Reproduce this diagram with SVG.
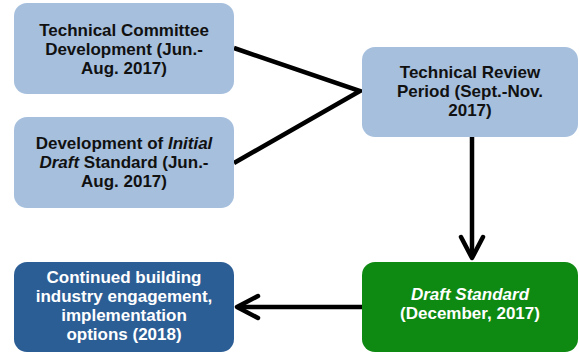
<svg xmlns="http://www.w3.org/2000/svg" width="579" height="353" viewBox="0 0 579 353">
<style>
.box{stroke:none}
.lb{fill:#A5BFDD}
.db{fill:#2C5E96}
.gr{fill:#0E8A12}
text{font-family:"Liberation Sans",Arial,sans-serif;font-weight:bold;font-size:17px;text-anchor:middle}
.dk{fill:#111}
.wt{fill:#fff}
.conn{stroke:#000;stroke-width:4.5;fill:none}
.head{stroke:#000;stroke-width:4.5;fill:none;stroke-linecap:round;stroke-linejoin:round}
</style>
<rect width="579" height="353" fill="#fff"/>
<g id="connectors">
<polyline class="conn" points="234,48 360,91 234,163"/>
<line class="conn" x1="472" y1="137" x2="472" y2="257"/>
<polyline class="head" points="461,237 472,258 483,237"/>
<line class="conn" x1="362" y1="307" x2="238" y2="307"/>
<polyline class="head" points="258,296 237,307 258,318"/>
</g>
<g id="n1">
<rect class="box lb" x="14" y="3" width="220" height="91" rx="13"/>
<text class="dk" x="124" y="36">Technical Committee</text>
<text class="dk" x="124" y="55">Development (Jun.-</text>
<text class="dk" x="124" y="74">Aug. 2017)</text>
</g>
<g id="n2">
<rect class="box lb" x="14" y="117" width="220" height="91" rx="13"/>
<text class="dk" x="124" y="149">Development of <tspan font-style="italic">Initial</tspan></text>
<text class="dk" x="124" y="168"><tspan font-style="italic">Draft</tspan> Standard (Jun.-</text>
<text class="dk" x="124" y="187">Aug. 2017)</text>
</g>
<g id="n3">
<rect class="box lb" x="362" y="47" width="216" height="90" rx="13"/>
<text class="dk" x="470" y="78">Technical Review</text>
<text class="dk" x="470" y="97">Period (Sept.-Nov.</text>
<text class="dk" x="470" y="116">2017)</text>
</g>
<g id="n4">
<rect class="box db" x="14" y="262" width="220" height="90" rx="13"/>
<text class="wt" x="124" y="282.5">Continued building</text>
<text class="wt" x="124" y="301.5">industry engagement,</text>
<text class="wt" x="124" y="320.5">implementation</text>
<text class="wt" x="124" y="339.5">options (2018)</text>
</g>
<g id="n5">
<rect class="box gr" x="362" y="262" width="216" height="90" rx="13"/>
<text class="wt" x="470" y="299.5" font-style="italic">Draft Standard</text>
<text class="wt" x="470" y="318.5">(December, 2017)</text>
</g>
</svg>
